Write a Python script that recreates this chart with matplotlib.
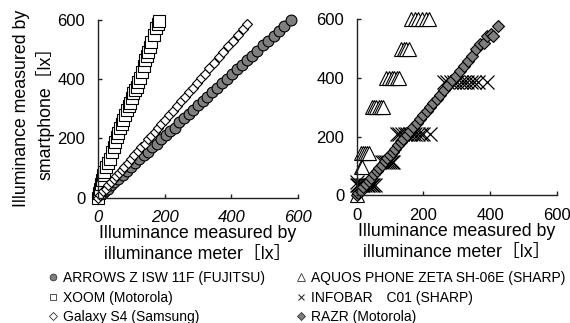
import matplotlib
matplotlib.use("Agg")
import matplotlib.pyplot as plt
from matplotlib.lines import Line2D

plt.rcParams['font.family'] = ['Liberation Sans', 'Noto Sans CJK JP']

# ── Left panel data ───────────────────────────────────────────
arrows_x = [0, 8, 15, 22, 30, 40, 50, 62, 75, 88, 100, 112, 125, 138, 150, 163, 176, 190,
            203, 217, 230, 244, 258, 272, 286, 300, 314, 328, 342, 357, 372, 387, 402, 417,
            432, 447, 462, 478, 494, 510, 526, 542, 558, 577]
arrows_y = [0, 8, 16, 23, 31, 42, 52, 64, 78, 91, 104, 117, 130, 144, 156, 170, 183, 198,
            211, 224, 236, 254, 268, 283, 297, 312, 327, 341, 356, 371, 387, 402, 418, 434,
            449, 465, 480, 497, 514, 530, 547, 563, 580, 600]

xoom_x = [0, 3, 6, 9, 12, 16, 20, 25, 31, 37, 43, 48, 52, 57, 62, 67, 72, 76, 82, 88,
          93, 97, 102, 106, 112, 117, 121, 127, 133, 138, 142, 147, 151, 156, 160, 168,
          175, 180, 184]
xoom_y = [0, 15, 30, 45, 60, 75, 88, 102, 116, 130, 154, 170, 188, 205, 220, 235, 250,
          262, 280, 296, 308, 320, 338, 353, 365, 373, 390, 405, 424, 445, 465, 480, 492,
          510, 526, 550, 573, 585, 597]

galaxy_x = [0, 8, 16, 24, 32, 40, 48, 56, 64, 72, 80, 90, 100, 110, 120, 130, 140, 150,
            160, 170, 180, 190, 200, 212, 224, 236, 248, 260, 272, 284, 296, 308, 320,
            334, 348, 362, 376, 390, 405, 420, 434, 448]
galaxy_y = [0, 10, 21, 31, 42, 52, 63, 73, 84, 94, 105, 118, 131, 144, 157, 170, 183, 197,
            210, 223, 236, 249, 262, 278, 293, 309, 325, 341, 356, 372, 388, 403, 419,
            437, 456, 474, 492, 511, 530, 550, 568, 587]

# ── Right panel data ──────────────────────────────────────────
aquos_x = [0, 12, 16, 14, 20, 26, 32, 38, 45, 52, 59, 66, 73, 80, 89, 97, 105, 113, 120,
           127, 133, 141, 149, 157, 163, 174, 185, 196, 207, 217]
aquos_y = [0, 95, 95, 145, 145, 145, 145, 145, 300, 300, 300, 300, 300, 300, 400, 400,
           400, 400, 400, 400, 500, 500, 500, 500, 600, 600, 600, 600, 600, 600]

infobar_x = [0, 0, 5, 10, 15, 20, 25, 30, 35, 40, 45, 50, 55,
             75, 81, 87, 93, 99, 105, 110,
             120, 128, 136, 144, 152, 160, 168, 176, 184, 192, 200, 220,
             262, 272, 282, 292, 302, 312, 322, 332, 342, 352, 364, 392]
infobar_y = [45, 35, 35, 35, 35, 35, 35, 35, 35, 35, 35, 35, 35,
             115, 115, 115, 115, 115, 115, 115,
             210, 210, 210, 210, 210, 210, 210, 210, 210, 210, 210, 210,
             385, 385, 385, 385, 385, 385, 385, 385, 385, 385, 385, 385]

razr_x = [0, 5, 12, 20, 28, 36, 44, 52, 60, 68, 76, 84, 92, 100, 108, 116, 124, 132, 140,
          150, 160, 170, 180, 190, 200, 210, 220, 230, 240, 250, 262, 274, 286, 298, 310,
          322, 334, 346, 358, 370, 382, 392, 402, 410, 425]
razr_y = [0, 8, 16, 27, 38, 50, 60, 72, 82, 93, 104, 116, 126, 137, 148, 158, 170, 181,
          192, 206, 219, 232, 246, 260, 274, 287, 301, 315, 328, 342, 358, 375, 392, 408,
          424, 441, 457, 474, 500, 518, 520, 545, 550, 542, 578]

ticks = [0, 200, 400, 600]

fig = plt.figure(figsize=(5.7, 3.23), dpi=100)
ax1 = fig.add_axes([0.1714, 0.3879, 0.3519, 0.5502])
ax2 = fig.add_axes([0.6258, 0.3954, 0.3509, 0.5443])

gray = '#7f7f7f'
mk = dict(linestyle='none', markeredgecolor='black', markeredgewidth=0.8, clip_on=False)

ax1.plot(arrows_x, arrows_y, marker='o', markersize=7.8, markerfacecolor=gray, **mk)
ax1.plot(xoom_x, xoom_y, marker='s', markersize=8.0, markerfacecolor='white', **mk)
ax1.plot(galaxy_x, galaxy_y, marker='D', markersize=5.0, markerfacecolor='white', **mk)

ax2.plot(aquos_x, aquos_y, marker='^', markersize=9.5, markerfacecolor='white', **mk)
ax2.plot(infobar_x, infobar_y, marker='x', markersize=9.5, color='black',
         linestyle='none', markeredgewidth=0.9, clip_on=False)
ax2.plot(razr_x, razr_y, marker='D', markersize=5.8, markerfacecolor=gray, **mk)

for ax in (ax1, ax2):
    ax.set_xlim(0, 600)
    ax.set_ylim(0, 600)
    ax.set_xticks(ticks)
    ax.set_yticks(ticks)
    ax.spines['top'].set_visible(False)
    ax.spines['right'].set_visible(False)
    for s in ('left', 'bottom'):
        ax.spines[s].set_linewidth(1.0)
        ax.spines[s].set_color('#222222')
    ax.tick_params(direction='in', length=3, width=1.0, color='#222222',
                   labelsize=12, pad=9)
    ax.set_xlabel("Illuminance measured by\nilluminance meter［lx］", fontsize=12.8,
                  labelpad=0, linespacing=1.32)

for lbl in ax1.get_xticklabels():
    lbl.set_style('italic')

ax1.set_ylabel("Illuminance measured by\nsmartphone［lx］", fontsize=12.8,
               labelpad=2, linespacing=1.35)

handles = [
    Line2D([], [], linestyle='none', marker='o', markersize=4.8, markerfacecolor=gray,
           markeredgecolor='#333333', markeredgewidth=0.6),
    Line2D([], [], linestyle='none', marker='s', markersize=5, markerfacecolor='white',
           markeredgecolor='#333333', markeredgewidth=0.6),
    Line2D([], [], linestyle='none', marker='D', markersize=3.6, markerfacecolor='white',
           markeredgecolor='#333333', markeredgewidth=0.6),
    Line2D([], [], linestyle='none', marker='^', markersize=5.2, markerfacecolor='white',
           markeredgecolor='#333333', markeredgewidth=0.6),
    Line2D([], [], linestyle='none', marker='x', markersize=5, color='#333333',
           markeredgewidth=0.8),
    Line2D([], [], linestyle='none', marker='D', markersize=3.6, markerfacecolor=gray,
           markeredgecolor='#333333', markeredgewidth=0.6),
]
labels = ["ARROWS Z ISW 11F (FUJITSU)", "XOOM (Motorola)", "Galaxy S4 (Samsung)",
          "AQUOS PHONE ZETA SH-06E (SHARP)", "INFOBAR　C01 (SHARP)", "RAZR (Motorola)"]
fig.legend(handles, labels, loc='upper left', bbox_to_anchor=(0.086, 0.162), ncol=2,
           frameon=False, fontsize=10, handlelength=0.6, handletextpad=0.4,
           columnspacing=2.3, labelspacing=0.42, borderpad=0, borderaxespad=0)

fig.savefig('out.png', dpi=100, facecolor='white')
